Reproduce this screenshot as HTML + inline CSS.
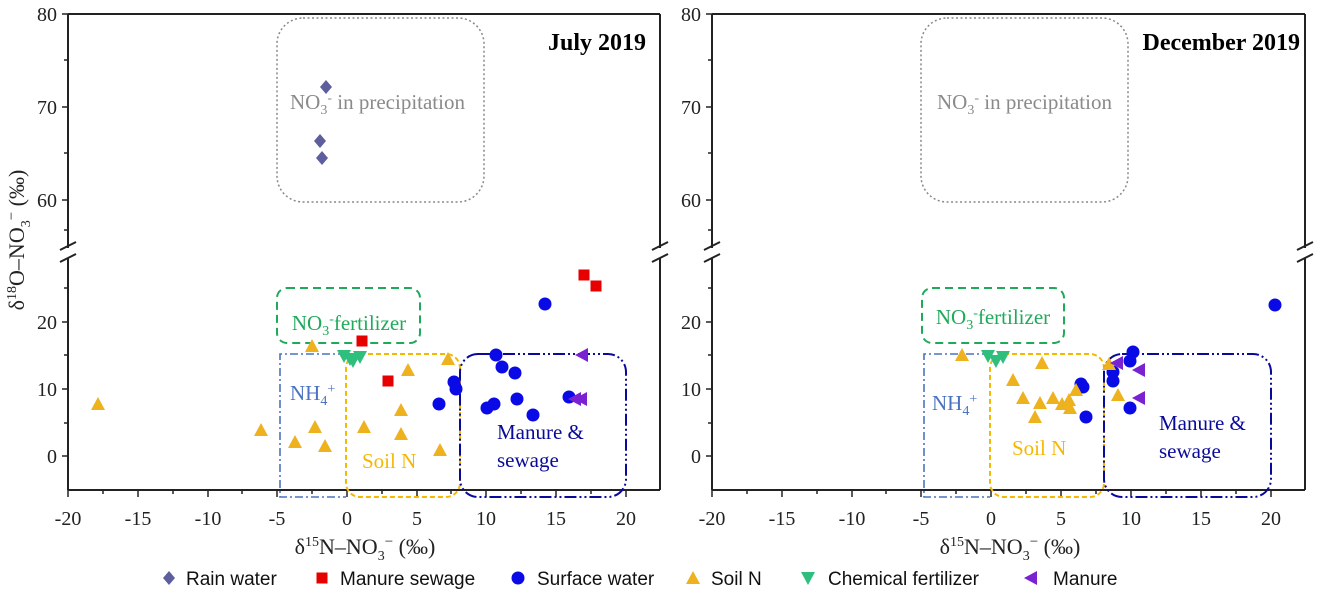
<!DOCTYPE html>
<html><head><meta charset="utf-8"><style>
html,body{margin:0;padding:0;background:#fff;}
svg{display:block;}
.t{font-family:"Liberation Serif",serif;font-size:20px;fill:#222;}
.lg{font-family:"Liberation Sans",sans-serif;font-size:19px;fill:#111;}
.bx{font-family:"Liberation Serif",serif;font-size:21px;}
</style></head><body>
<svg width="1317" height="596" viewBox="0 0 1317 596" xmlns="http://www.w3.org/2000/svg">
<defs>
<path id="dia" d="M0,-7 L6,0 L0,7 L-6,0Z" fill="#5E5E9E"/>
<rect id="sq" x="-5.5" y="-5.5" width="11" height="11" fill="#E60000"/>
<circle id="ci" r="6.5" fill="#0A0AE6"/>
<path id="tu" d="M0,-7 L7,6 L-7,6Z" fill="#EDB21E"/>
<path id="td" d="M0,7 L7,-6 L-7,-6Z" fill="#2FBF7C"/>
<path id="tl" d="M-7,0 L6,-7 L6,7Z" fill="#7A22D2"/>
</defs>

<!-- ===== LEFT PANEL ===== -->
<g stroke="#222" stroke-width="2" fill="none">
<line x1="68" y1="14" x2="660" y2="14"/>
<line x1="68" y1="14" x2="68" y2="248"/>
<line x1="68" y1="258" x2="68" y2="490"/>
<line x1="68" y1="490" x2="660" y2="490"/>
<line x1="660" y1="14" x2="660" y2="248"/>
<line x1="660" y1="258" x2="660" y2="490"/>
<line x1="60" y1="250" x2="76" y2="242"/><line x1="60" y1="262" x2="76" y2="254"/>
<line x1="652" y1="250" x2="668" y2="242"/><line x1="652" y1="262" x2="668" y2="254"/>
</g>
<g stroke="#222" stroke-width="1.5">
<line x1="62" y1="14" x2="68" y2="14"/><line x1="62" y1="107" x2="68" y2="107"/><line x1="62" y1="200" x2="68" y2="200"/>
<line x1="64" y1="60" x2="68" y2="60"/><line x1="64" y1="153" x2="68" y2="153"/><line x1="64" y1="230" x2="68" y2="230"/>
<line x1="62" y1="322" x2="68" y2="322"/><line x1="62" y1="389" x2="68" y2="389"/><line x1="62" y1="456" x2="68" y2="456"/>
<line x1="64" y1="288" x2="68" y2="288"/><line x1="64" y1="355" x2="68" y2="355"/><line x1="64" y1="423" x2="68" y2="423"/>
</g>
<g stroke="#222" stroke-width="1.5">
<line x1="68" y1="490" x2="68" y2="497"/><line x1="138" y1="490" x2="138" y2="497"/><line x1="208" y1="490" x2="208" y2="497"/><line x1="277" y1="490" x2="277" y2="497"/><line x1="347" y1="490" x2="347" y2="497"/><line x1="417" y1="490" x2="417" y2="497"/><line x1="486" y1="490" x2="486" y2="497"/><line x1="556" y1="490" x2="556" y2="497"/><line x1="626" y1="490" x2="626" y2="497"/>
<line x1="103" y1="490" x2="103" y2="494"/><line x1="173" y1="490" x2="173" y2="494"/><line x1="242" y1="490" x2="242" y2="494"/><line x1="312" y1="490" x2="312" y2="494"/><line x1="382" y1="490" x2="382" y2="494"/><line x1="451" y1="490" x2="451" y2="494"/><line x1="521" y1="490" x2="521" y2="494"/><line x1="591" y1="490" x2="591" y2="494"/>
</g>
<g class="t" text-anchor="end">
<text x="57" y="21">80</text><text x="57" y="114">70</text><text x="57" y="207">60</text>
<text x="57" y="329">20</text><text x="57" y="396">10</text><text x="57" y="463">0</text>
</g>
<g class="t" text-anchor="middle">
<text x="68" y="525">-20</text><text x="138" y="525">-15</text><text x="208" y="525">-10</text><text x="277" y="525">-5</text><text x="347" y="525">0</text><text x="417" y="525">5</text><text x="486" y="525">10</text><text x="556" y="525">15</text><text x="626" y="525">20</text>
</g>
<text class="t" x="365" y="554" text-anchor="middle" style="font-size:22px">δ<tspan dy="-8" font-size="14">15</tspan><tspan dy="8">N–NO</tspan><tspan dy="6" font-size="14">3</tspan><tspan dy="-14" font-size="15">−</tspan><tspan dy="8"> (‰)</tspan></text>
<text class="t" transform="translate(24,240) rotate(-90)" text-anchor="middle" style="font-size:22px">δ<tspan dy="-8" font-size="14">18</tspan><tspan dy="8">O–NO</tspan><tspan dy="6" font-size="14">3</tspan><tspan dy="-14" font-size="15">−</tspan><tspan dy="8"> (‰)</tspan></text>
<text x="646" y="50" text-anchor="end" style="font-family:'Liberation Serif',serif;font-weight:bold;font-size:24px">July 2019</text>

<rect x="277" y="18" width="207" height="184" rx="26" fill="none" stroke="#888" stroke-width="1.5" stroke-dasharray="2,2.5"/>
<text class="bx" x="290" y="109" style="fill:#8a8a8a">NO<tspan dy="5" font-size="14">3</tspan><tspan dy="-12" font-size="14">-</tspan><tspan dy="7"> in precipitation</tspan></text>
<rect x="277" y="288" width="143" height="55" rx="10" fill="none" stroke="#1FAA5A" stroke-width="2" stroke-dasharray="8,5"/>
<text class="bx" x="349" y="330" text-anchor="middle" style="fill:#1FAA5A">NO<tspan dy="5" font-size="14">3</tspan><tspan dy="-12" font-size="14">-</tspan><tspan dy="7">fertilizer</tspan></text>
<path d="M346,354 L280,354 L280,497 L346,497" fill="none" stroke="#4A72C0" stroke-width="1.6" stroke-dasharray="8,3,2,3"/>
<text class="bx" x="290" y="400" style="fill:#4A72C0">NH<tspan dy="5" font-size="14">4</tspan><tspan dy="-12" font-size="14">+</tspan></text>
<rect x="346" y="354" width="114" height="143" rx="14" fill="none" stroke="#F5B800" stroke-width="2" stroke-dasharray="5,3"/>
<text class="bx" x="362" y="468" style="fill:#F5B800">Soil N</text>
<rect x="460" y="354" width="166" height="143" rx="18" fill="none" stroke="#0A0A9A" stroke-width="2" stroke-dasharray="12,3,2,3,2,3"/>
<text class="bx" x="497" y="439" style="fill:#0A0A9A">Manure &amp;</text>
<text class="bx" x="497" y="467" style="fill:#0A0A9A">sewage</text>

<use href="#dia" x="326" y="87"/><use href="#dia" x="320" y="141"/><use href="#dia" x="322" y="158"/>
<use href="#sq" x="584" y="275"/><use href="#sq" x="596" y="286"/><use href="#sq" x="362" y="341"/><use href="#sq" x="388" y="381"/>
<use href="#ci" x="545" y="304"/><use href="#ci" x="496" y="355"/><use href="#ci" x="502" y="367"/><use href="#ci" x="515" y="373"/><use href="#ci" x="454" y="382"/><use href="#ci" x="456" y="389"/><use href="#ci" x="439" y="404"/><use href="#ci" x="517" y="399"/><use href="#ci" x="487" y="408"/><use href="#ci" x="494" y="404"/><use href="#ci" x="533" y="415"/><use href="#ci" x="569" y="397"/>
<use href="#tu" x="98" y="404"/><use href="#tu" x="261" y="430"/><use href="#tu" x="295" y="442"/><use href="#tu" x="315" y="427"/><use href="#tu" x="325" y="446"/><use href="#tu" x="312" y="346"/><use href="#tu" x="364" y="427"/><use href="#tu" x="401" y="410"/><use href="#tu" x="401" y="434"/><use href="#tu" x="408" y="370"/><use href="#tu" x="448" y="359"/><use href="#tu" x="440" y="450"/>
<use href="#td" x="344" y="356"/><use href="#td" x="353" y="361"/><use href="#td" x="360" y="357"/><use href="#td" x="350" y="359"/>
<use href="#tl" x="582" y="355"/><use href="#tl" x="575" y="399"/><use href="#tl" x="581" y="399"/>

<!-- ===== RIGHT PANEL ===== -->
<g stroke="#222" stroke-width="2" fill="none">
<line x1="712" y1="14" x2="1305" y2="14"/>
<line x1="712" y1="14" x2="712" y2="248"/>
<line x1="712" y1="258" x2="712" y2="490"/>
<line x1="712" y1="490" x2="1305" y2="490"/>
<line x1="1305" y1="14" x2="1305" y2="248"/>
<line x1="1305" y1="258" x2="1305" y2="490"/>
<line x1="704" y1="250" x2="720" y2="242"/><line x1="704" y1="262" x2="720" y2="254"/>
<line x1="1297" y1="250" x2="1313" y2="242"/><line x1="1297" y1="262" x2="1313" y2="254"/>
</g>
<g stroke="#222" stroke-width="1.5">
<line x1="706" y1="14" x2="712" y2="14"/><line x1="706" y1="107" x2="712" y2="107"/><line x1="706" y1="200" x2="712" y2="200"/>
<line x1="708" y1="60" x2="712" y2="60"/><line x1="708" y1="153" x2="712" y2="153"/><line x1="708" y1="230" x2="712" y2="230"/>
<line x1="706" y1="322" x2="712" y2="322"/><line x1="706" y1="389" x2="712" y2="389"/><line x1="706" y1="456" x2="712" y2="456"/>
<line x1="708" y1="288" x2="712" y2="288"/><line x1="708" y1="355" x2="712" y2="355"/><line x1="708" y1="423" x2="712" y2="423"/>
</g>
<g stroke="#222" stroke-width="1.5">
<line x1="712" y1="490" x2="712" y2="497"/><line x1="782" y1="490" x2="782" y2="497"/><line x1="852" y1="490" x2="852" y2="497"/><line x1="921" y1="490" x2="921" y2="497"/><line x1="991" y1="490" x2="991" y2="497"/><line x1="1061" y1="490" x2="1061" y2="497"/><line x1="1131" y1="490" x2="1131" y2="497"/><line x1="1201" y1="490" x2="1201" y2="497"/><line x1="1271" y1="490" x2="1271" y2="497"/>
<line x1="747" y1="490" x2="747" y2="494"/><line x1="817" y1="490" x2="817" y2="494"/><line x1="886" y1="490" x2="886" y2="494"/><line x1="956" y1="490" x2="956" y2="494"/><line x1="1026" y1="490" x2="1026" y2="494"/><line x1="1096" y1="490" x2="1096" y2="494"/><line x1="1166" y1="490" x2="1166" y2="494"/><line x1="1236" y1="490" x2="1236" y2="494"/>
</g>
<g class="t" text-anchor="end">
<text x="701" y="21">80</text><text x="701" y="114">70</text><text x="701" y="207">60</text>
<text x="701" y="329">20</text><text x="701" y="396">10</text><text x="701" y="463">0</text>
</g>
<g class="t" text-anchor="middle">
<text x="712" y="525">-20</text><text x="782" y="525">-15</text><text x="852" y="525">-10</text><text x="921" y="525">-5</text><text x="991" y="525">0</text><text x="1061" y="525">5</text><text x="1131" y="525">10</text><text x="1201" y="525">15</text><text x="1271" y="525">20</text>
</g>
<text class="t" x="1010" y="554" text-anchor="middle" style="font-size:22px">δ<tspan dy="-8" font-size="14">15</tspan><tspan dy="8">N–NO</tspan><tspan dy="6" font-size="14">3</tspan><tspan dy="-14" font-size="15">−</tspan><tspan dy="8"> (‰)</tspan></text>
<text x="1300" y="50" text-anchor="end" style="font-family:'Liberation Serif',serif;font-weight:bold;font-size:24px">December 2019</text>

<rect x="921" y="18" width="207" height="184" rx="26" fill="none" stroke="#888" stroke-width="1.5" stroke-dasharray="2,2.5"/>
<text class="bx" x="937" y="109" style="fill:#8a8a8a">NO<tspan dy="5" font-size="14">3</tspan><tspan dy="-12" font-size="14">-</tspan><tspan dy="7"> in precipitation</tspan></text>
<rect x="922" y="288" width="142" height="55" rx="10" fill="none" stroke="#1FAA5A" stroke-width="2" stroke-dasharray="8,5"/>
<text class="bx" x="993" y="324" text-anchor="middle" style="fill:#1FAA5A">NO<tspan dy="5" font-size="14">3</tspan><tspan dy="-12" font-size="14">-</tspan><tspan dy="7">fertilizer</tspan></text>
<path d="M990,354 L924,354 L924,497 L990,497" fill="none" stroke="#4A72C0" stroke-width="1.6" stroke-dasharray="8,3,2,3"/>
<text class="bx" x="932" y="410" style="fill:#4A72C0">NH<tspan dy="5" font-size="14">4</tspan><tspan dy="-12" font-size="14">+</tspan></text>
<rect x="990" y="354" width="114" height="143" rx="14" fill="none" stroke="#F5B800" stroke-width="2" stroke-dasharray="5,3"/>
<text class="bx" x="1012" y="455" style="fill:#F5B800">Soil N</text>
<rect x="1104" y="354" width="167" height="143" rx="18" fill="none" stroke="#0A0A9A" stroke-width="2" stroke-dasharray="12,3,2,3,2,3"/>
<text class="bx" x="1159" y="430" style="fill:#0A0A9A">Manure &amp;</text>
<text class="bx" x="1159" y="458" style="fill:#0A0A9A">sewage</text>

<use href="#ci" x="1275" y="305"/><use href="#ci" x="1133" y="352"/><use href="#ci" x="1130" y="361"/><use href="#ci" x="1113" y="372"/><use href="#ci" x="1113" y="381"/><use href="#ci" x="1081" y="384"/><use href="#ci" x="1083" y="387"/><use href="#ci" x="1086" y="417"/><use href="#ci" x="1130" y="408"/>
<use href="#tu" x="962" y="355"/><use href="#tu" x="1042" y="363"/><use href="#tu" x="1013" y="380"/><use href="#tu" x="1023" y="398"/><use href="#tu" x="1040" y="403"/><use href="#tu" x="1035" y="417"/><use href="#tu" x="1053" y="398"/><use href="#tu" x="1062" y="404"/><use href="#tu" x="1069" y="400"/><use href="#tu" x="1070" y="408"/><use href="#tu" x="1076" y="390"/><use href="#tu" x="1109" y="364"/><use href="#tu" x="1118" y="395"/>
<use href="#td" x="988" y="356"/><use href="#td" x="996" y="361"/><use href="#td" x="1003" y="357"/>
<use href="#tl" x="1117" y="363"/><use href="#tl" x="1139" y="370"/><use href="#tl" x="1139" y="398"/>

<!-- legend -->
<use href="#dia" x="169" y="578"/><text class="lg" x="186" y="585">Rain water</text>
<use href="#sq" x="322" y="578"/><text class="lg" x="340" y="585">Manure sewage</text>
<use href="#ci" x="518" y="578"/><text class="lg" x="537" y="585">Surface water</text>
<use href="#tu" x="693" y="578"/><text class="lg" x="711" y="585">Soil N</text>
<use href="#td" x="808" y="578"/><text class="lg" x="828" y="585">Chemical fertilizer</text>
<use href="#tl" x="1031" y="578"/><text class="lg" x="1053" y="585">Manure</text>
</svg>
</body></html>
